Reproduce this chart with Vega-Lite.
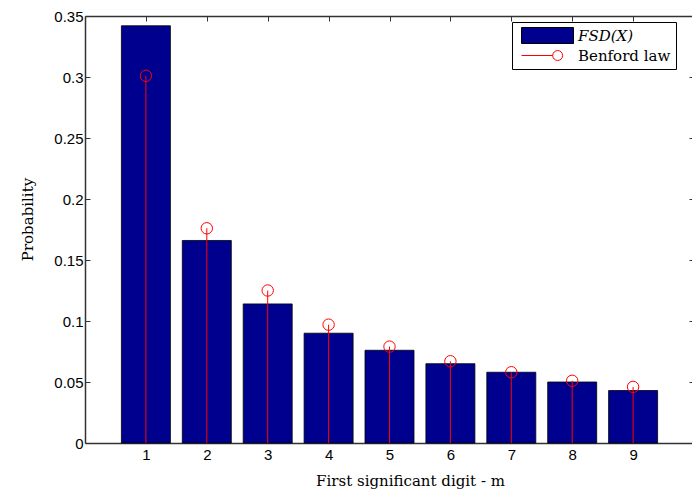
{
  "$schema": "https://vega.github.io/schema/vega-lite/v6.json",
  "width": 609,
  "height": 427,
  "autosize": {"type": "none"},
  "padding": {"left": 85, "top": 16, "right": 0, "bottom": 50},
  "background": "white",
  "config": {
    "view": {"stroke": null},
    "axis": {
      "domainColor": "#333333",
      "domainWidth": 1.5,
      "tickColor": "#333333",
      "tickWidth": 1,
      "tickSize": -5,
      "grid": false,
      "labelFont": "Liberation Sans",
      "labelFontSize": 15,
      "labelColor": "black",
      "titleFont": "DejaVu Serif",
      "titleFontSize": 15,
      "titleFontWeight": "normal",
      "titleColor": "black"
    },
    "legend": {
      "orient": "none",
      "legendX": 427,
      "legendY": 6,
      "strokeColor": "black",
      "fillColor": "white",
      "padding": 5,
      "labelFont": "DejaVu Serif",
      "labelFontSize": 15,
      "labelColor": "black",
      "labelFontStyle": {"expr": "datum.value === 'FSD(X)' ? 'italic' : 'normal'"},
      "symbolType": {"expr": "datum.value === 'FSD(X)' ? 'M-3.25,-1H3.25V1H-3.25Z' : 'M-3.25,0H0.65M1.89,0A0.62,0.62 0 1,1 0.65,0A0.62,0.62 0 1,1 1.89,0'"},
      "symbolSize": 256,
      "symbolStrokeWidth": 1,
      "symbolOpacity": 1,
      "symbolOffset": 22,
      "labelOffset": 22,
      "rowPadding": 1
    }
  },
  "data": {
    "values": [
      {"digit": 1, "fsd": 0.342, "benford": 0.301},
      {"digit": 2, "fsd": 0.166, "benford": 0.176},
      {"digit": 3, "fsd": 0.114, "benford": 0.125},
      {"digit": 4, "fsd": 0.090, "benford": 0.097},
      {"digit": 5, "fsd": 0.076, "benford": 0.079},
      {"digit": 6, "fsd": 0.065, "benford": 0.067},
      {"digit": 7, "fsd": 0.058, "benford": 0.058},
      {"digit": 8, "fsd": 0.050, "benford": 0.051},
      {"digit": 9, "fsd": 0.043, "benford": 0.046}
    ]
  },
  "layer": [
    {
      "mark": {"type": "bar", "width": 49, "strokeWidth": 0.8, "opacity": 1},
      "encoding": {
        "x": {
          "field": "digit", "type": "quantitative",
          "scale": {"domain": [0, 10], "nice": false, "zero": false, "padding": 0},
          "axis": {"orient": "bottom", "values": [1, 2, 3, 4, 5, 6, 7, 8, 9], "labelPadding": 9, "title": "First significant digit - m", "titleX": 325, "titleY": 42, "titleBaseline": "alphabetic", "titleAlign": "center", "labelFlush": false}
        },
        "y": {
          "field": "fsd", "type": "quantitative",
          "scale": {"domain": [0, 0.35], "nice": false},
          "axis": {"orient": "left", "values": [0, 0.05, 0.1, 0.15, 0.2, 0.25, 0.3, 0.35], "labelExpr": "'' + datum.value", "labelPadding": 7, "title": "Probability", "titleX": -53, "titleY": 203, "titleAngle": -90, "titleBaseline": "alphabetic", "titleAlign": "center", "labelFlush": false}
        },
        "fill": {
          "datum": "FSD(X)", "type": "nominal",
          "scale": {"domain": ["FSD(X)", "Benford law"], "range": ["#00008F", "transparent"]},
          "legend": {"title": null, "orient": "none", "legendX": 427, "legendY": 6}
        },
        "stroke": {
          "datum": "FSD(X)", "type": "nominal",
          "scale": {"domain": ["FSD(X)", "Benford law"], "range": ["black", "#FF0000"]},
          "legend": {"title": null, "orient": "none", "legendX": 427, "legendY": 6}
        }
      }
    },
    {
      "mark": {"type": "rule", "strokeWidth": 1},
      "encoding": {
        "x": {"field": "digit", "type": "quantitative", "axis": {"orient": "top", "values": [1, 2, 3, 4, 5, 6, 7, 8, 9], "labels": false, "title": null}},
        "y": {"field": "benford", "type": "quantitative", "axis": {"orient": "right", "values": [0, 0.05, 0.1, 0.15, 0.2, 0.25, 0.3, 0.35], "labels": false, "title": null}},
        "y2": {"datum": 0},
        "stroke": {"datum": "Benford law", "type": "nominal"}
      }
    },
    {
      "mark": {"type": "point", "filled": false, "size": 130, "strokeWidth": 1, "stroke": "#FF0000", "opacity": 1},
      "encoding": {
        "x": {"field": "digit", "type": "quantitative", "axis": null},
        "y": {"field": "benford", "type": "quantitative", "axis": null}
      }
    }
  ],
  "resolve": {"axis": {"x": "independent", "y": "independent"}}
}
